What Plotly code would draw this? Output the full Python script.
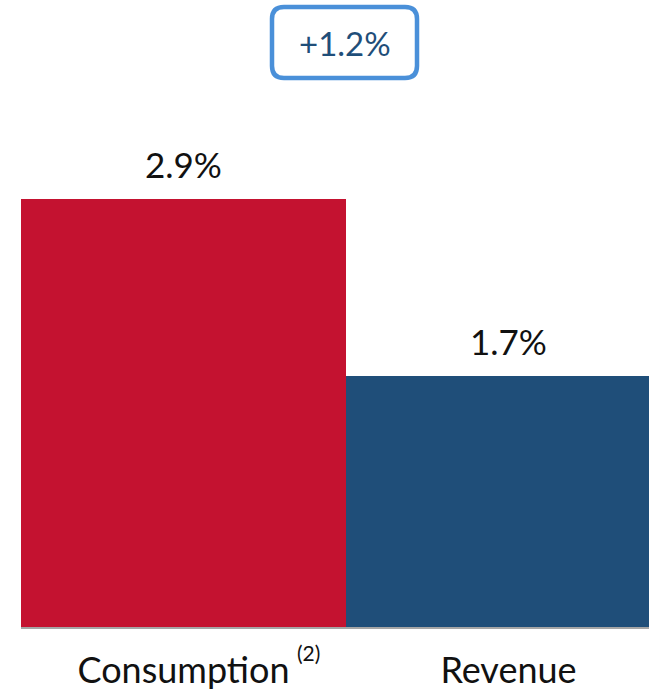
import plotly.graph_objects as go

categories = ["Consumption", "Revenue"]
values = [2.9, 1.7]
value_labels = ["2.9%", "1.7%"]
bar_colors = ["#C41230", "#1F4E79"]
delta_label = "+1.2%"
footnote = "(2)"

W, H = 649, 694
ML, MR, MT, MB = 21, 0, 99, 67
pw, ph = W - ML - MR, H - MT - MB

def px_x(p):
    return (p - ML) / pw

def px_y(p):
    return (H - MB - p) / ph

fig = go.Figure()
fig.add_trace(go.Bar(
    x=categories, y=values,
    marker=dict(color=bar_colors, line=dict(width=0)),
    width=1.0,
    hoverinfo="skip",
))

for c, v, t in zip(categories, values, value_labels):
    fig.add_annotation(x=c, y=v, text=t, showarrow=False, yanchor="bottom",
                       yshift=12, font=dict(family="Lato", size=35, color="#111111"))

# rounded box around delta label
x0, x1 = px_x(272), px_x(417)
y0, y1 = px_y(78), px_y(7)
rx, ry = 12 / pw, 12 / ph
path = (f"M {x0+rx},{y1} L {x1-rx},{y1} Q {x1},{y1} {x1},{y1-ry} "
        f"L {x1},{y0+ry} Q {x1},{y0} {x1-rx},{y0} L {x0+rx},{y0} "
        f"Q {x0},{y0} {x0},{y0+ry} L {x0},{y1-ry} Q {x0},{y1} {x0+rx},{y1} Z")
fig.add_shape(type="path", path=path, xref="paper", yref="paper",
              line=dict(color="#4A90D9", width=4.5), fillcolor="white")
fig.add_annotation(x=(x0 + x1) / 2, y=(y0 + y1) / 2, xref="paper", yref="paper",
                   text=delta_label, showarrow=False, xanchor="center", yanchor="middle",
                   font=dict(family="Lato", size=33, color="#1F4E79"))

fig.add_annotation(x=px_x(308), y=px_y(652), xref="paper", yref="paper",
                   text=footnote, showarrow=False, xanchor="center", yanchor="middle",
                   font=dict(family="Lato", size=21, color="#111111"))

fig.update_layout(
    width=W, height=H,
    margin=dict(l=ML, r=MR, t=MT, b=MB),
    paper_bgcolor="white", plot_bgcolor="white",
    bargap=0, showlegend=False,
    xaxis=dict(range=[-0.5, -0.5 + pw / 325], showline=True, linecolor="#A6A6A6",
               linewidth=2, showgrid=False, ticks="", fixedrange=True,
               ticklabelstandoff=11,
               tickfont=dict(family="Lato", size=36, color="#111111")),
    yaxis=dict(range=[0, 528 / 147.6], visible=False, showgrid=False, fixedrange=True),
)

fig.write_html("out.html", config={"displayModeBar": False},
               post_script="document.body.style.margin='0';document.body.style.overflow='hidden';")
